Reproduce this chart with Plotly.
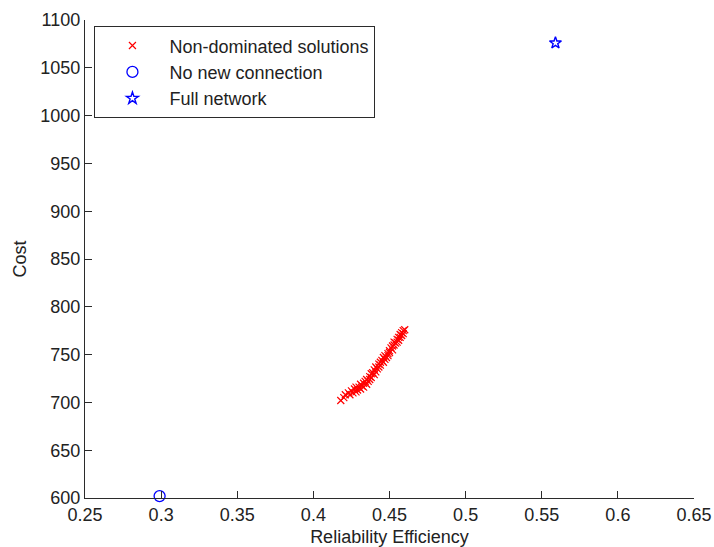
import plotly.graph_objects as go

# Pareto front: non-dominated solutions (reliability efficiency, cost)
pareto_eff = [
    0.418, 0.420, 0.421, 0.423, 0.424, 0.425, 0.426, 0.427, 0.428, 0.428,
    0.429, 0.430, 0.431, 0.431, 0.432, 0.433, 0.433, 0.434, 0.435, 0.435,
    0.436, 0.437, 0.437, 0.438, 0.438, 0.439, 0.440, 0.440, 0.441, 0.441,
    0.442, 0.443, 0.443, 0.444, 0.444, 0.445, 0.446, 0.446, 0.447, 0.447,
    0.448, 0.449, 0.449, 0.450, 0.450, 0.451, 0.452, 0.452, 0.453, 0.453,
    0.454, 0.455, 0.455, 0.456, 0.456, 0.457, 0.457, 0.458, 0.458, 0.459,
    0.460, 0.459,
]
pareto_cost = [
    702, 705, 708, 710, 708, 712, 710, 714, 711, 716,
    713, 716, 714, 719, 717, 720, 716, 722, 719, 724,
    722, 727, 724, 730, 726, 731, 729, 734, 732, 737,
    735, 740, 737, 742, 739, 744, 742, 747, 745, 749,
    747, 751, 749, 754, 752, 757, 755, 759, 760, 763,
    762, 766, 763, 768, 765, 771, 768, 773, 770, 775,
    776, 772,
]

# Reference designs
no_new_eff = [0.299]
no_new_cost = [602]
full_net_eff = [0.559]
full_net_cost = [1076]

x_ticks = [0.25, 0.3, 0.35, 0.4, 0.45, 0.5, 0.55, 0.6, 0.65]
y_ticks = [600, 650, 700, 750, 800, 850, 900, 950, 1000, 1050, 1100]

FONT = "Liberation Sans, Arial, sans-serif"
AXIS_COLOR = "#2b2b2b"

fig = go.Figure()
fig.add_trace(go.Scatter(
    x=pareto_eff, y=pareto_cost, mode="markers", name="Non-dominated solutions",
    cliponaxis=False,
    marker=dict(symbol="x-thin-open", size=7, color="#ff0000",
                line=dict(width=1.2, color="#ff0000")),
))
fig.add_trace(go.Scatter(
    x=no_new_eff, y=no_new_cost, mode="markers", name="No new connection",
    cliponaxis=False,
    marker=dict(symbol="circle-open", size=11, color="#0000ff",
                line=dict(width=1.3, color="#0000ff")),
))
fig.add_trace(go.Scatter(
    x=full_net_eff, y=full_net_cost, mode="markers", name="Full network",
    cliponaxis=False,
    marker=dict(symbol="star-open", size=9, color="#0000ff",
                line=dict(width=1.4, color="#0000ff")),
))

axis_common = dict(
    showline=True, linecolor=AXIS_COLOR, linewidth=1.3, mirror=False,
    ticks="inside", ticklen=7, tickwidth=1.3, tickcolor=AXIS_COLOR,
    showgrid=False, zeroline=False, automargin=False,
    tickfont=dict(family=FONT, size=18, color="#222222"),
)

fig.update_layout(
    width=714, height=547,
    margin=dict(l=85, r=20, t=20, b=49),
    paper_bgcolor="white", plot_bgcolor="white",
    font=dict(family=FONT, size=18, color="#222222"),
    xaxis=dict(range=[0.25, 0.65], tickvals=x_ticks,
               ticktext=[f"{v:g}" for v in x_ticks],
               title=dict(text="Reliability Efficiency", standoff=7,
                          font=dict(family=FONT, size=18)),
               **axis_common),
    yaxis=dict(range=[600, 1100], tickvals=y_ticks,
               ticktext=[str(v) for v in y_ticks],
               title=dict(text="Cost", standoff=8,
                          font=dict(family=FONT, size=18)),
               **axis_common),
    showlegend=True,
    legend=dict(
        x=0.015, y=0.9875, xanchor="left", yanchor="top",
        bgcolor="white", bordercolor=AXIS_COLOR, borderwidth=1.3,
        font=dict(family=FONT, size=18, color="#222222"),
        itemwidth=64, tracegroupgap=0,
    ),
)

fig.write_html("out.html")
